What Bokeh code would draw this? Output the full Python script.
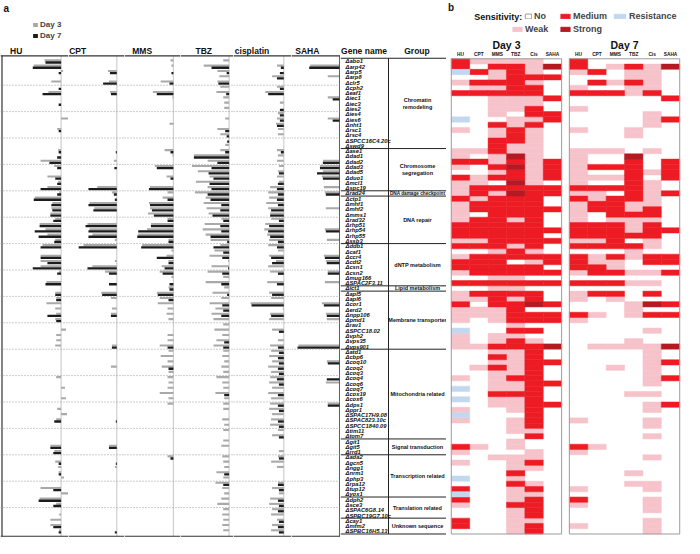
from bokeh.plotting import figure
from bokeh.layouts import row
from bokeh.models import Range1d, FactorRange, Span, Legend, LegendItem, ColumnDataSource
from bokeh.transform import dodge
from bokeh.core.properties import value
from bokeh.embed import file_html
from bokeh.resources import INLINE

FONT = "Liberation Sans"

# ---------------- data ----------------
genes = ["Δabo1", "Δarp42", "Δarp5", "Δarp8", "Δclr5", "Δcph2", "Δeaf1", "Δiec1", "Δiec3", "Δies2",
         "Δies4", "Δies6", "Δnht1", "Δrsc1", "Δrsc4", "ΔSPCC16C4.20c", "Δswd9",
         "Δase1", "Δdad1", "Δdad2", "Δdad3", "Δdad5", "Δduo1", "Δmcl1", "Δspc19",
         "Δrad24",
         "Δctp1", "Δmhf1", "Δmhf2", "Δmms1", "Δrad32", "Δrhp51", "Δrhp54", "Δrhp55", "Δssb3",
         "Δddb1", "Δcaf1", "Δccr4", "Δcdt2", "Δcsn1", "Δcsn2", "Δmug166", "ΔSPAC2F3.11",
         "Δict1",
         "Δapl5", "Δapl6", "Δcor1", "Δerd2", "Δnpp106", "Δpmd1", "Δrav1", "ΔSPCC18.02", "Δvph2",
         "Δvps35", "Δvps901",
         "Δatd1", "Δcbp6", "Δcoq10", "Δcoq2", "Δcoq3", "Δcoq4", "Δcoq6", "Δcoq7", "Δcox19", "Δcox6",
         "Δdps1", "Δppr1", "ΔSPAC17H9.08", "ΔSPAC823.10c", "ΔSPCC1840.09", "Δtim11", "Δtom7",
         "Δgit1", "Δgit5", "Δrrd1",
         "Δada2", "Δgcn5", "Δngg1", "Δnrm1", "Δphp3", "Δrpa12", "Δtup12", "Δyox1",
         "Δdph2", "Δsce3", "ΔSPAC6G8.14", "ΔSPBC19G7.10c",
         "Δcay1", "Δmfm2", "ΔSPBC16H5.13"]

group_names = ["Chromatin\nremodeling", "Chromosome\nsegregation", "DNA damage checkpoint",
               "DNA repair", "dNTP metabolism", "Lipid metabolism", "Membrane transporter",
               "Mitochondria related", "Signal transduction", "Transcription related",
               "Translation related", "Unknown sequence"]
group_sizes = [17, 8, 1, 9, 8, 1, 11, 17, 3, 8, 4, 3]

drugs = ["HU", "CPT", "MMS", "TBZ", "cisplatin", "SAHA"]

hu_day3 = [-1.7, -2.8, 0.2, 0, -1.0, 0, -1.3, 0, 0, 0,
           0, 0.8, 0, -0.4, 0, 0, 0, -0.3, 0, -2.1,
           -0.7, 0, -1.4, -0.3, -1.4, -0.2, -2.7, -0.9, -1.0, -1.1,
           -0.6, -2.2, -1.6, -1.4, -0.6, -1.9, 0, -2.1, -2.1, -2.1,
           -0.2, 0, -1.5, 0, -0.6, -0.5, -1.5, -0.6, -0.5, -0.6,
           0, 0.5, -0.5, -0.5, -0.6, 0, 0, 0, 0, 0,
           -0.5, 0, 0.4, 0, 0.5, 0, -0.4, 0.6, -0.5, 0,
           0, 0, 0, -1.1, -0.7, 0, -0.6, -0.3, -0.25, 0.3,
           0, -2.1, 0.9, -2.2, -0.5, 0, -0.2, -1.1, -1.1, -0.2]
hu_day7 = [-1.6, -2.9, -0.25, 0, 0, -0.25, -1.9, 0, -0.25, 0,
           0, 0, 0, -0.25, 0, 0, 0, -0.25, -0.4, -1.2,
           -0.4, 0, -0.6, -0.4, -2.1, -0.4, -2.8, -1.0, -0.9, -1.1,
           -0.8, -2.2, -2.7, -2.3, -0.7, -2.1, 0, -2.1, -1.4, -2.9,
           -0.4, 0, -1.6, 0, -0.6, -0.5, 0, 0, -1.4, -0.5,
           0, 0, 0, 0, 0, 0, 0, 0, 0, 0,
           0, 0, 0, 0, 0, 0, 0, 0, -0.7, 0,
           0, 0, 0, -1.1, -0.8, 0, -0.25, 0, -0.25, 0,
           0, -0.8, 0, -2.3, -0.8, 0, 0, 0, -0.8, -0.25]
cpt_day3 = [0, 0, -0.9, 0, -0.8, 0, -0.7, 0, 0, 0,
            0, 0, 0, 0, 0, 0, 0, 0, 0, -0.3,
            0, 0, 0, 0, -2.0, -0.5, 0, -2.8, -2.3, 0,
            0, -3.0, -2.8, -2.5, -0.2, -3.4, 0, 0, -0.2, -2.5,
            -1.2, 0, 0, 0, -1.6, -0.6, 0, -0.5, -0.6, 0,
            0, 0, 0, 0, -0.5, 0, 0, 0, -0.6, 0,
            0, 0, 0, 0, 0, 0, 0, 0, 0, 0,
            0, 0, 0, -0.8, 0, 0, 0, -0.2, 0, 0,
            0, 0, 0, 0, 0, 0, 0, 0, 0, 0]
cpt_day7 = [0, 0, -0.7, 0, -1.4, 0, -0.6, 0, 0, 0,
            0, 0, 0, 0, 0, 0, 0, -0.1, 0, 0,
            -0.25, 0, 0, 0, -2.9, -0.3, -0.2, -2.9, -2.4, 0,
            0, -3.2, -2.9, -2.9, 0, -3.9, 0, 0, 0, -3.0,
            -0.8, 0, -0.8, 0, -1.5, 0, 0, 0, -0.6, 0,
            0, 0, 0, 0, -0.5, 0, 0, 0, 0, 0,
            0, 0, 0, 0, 0, 0, 0, 0, -0.1, 0,
            0, 0, 0, -0.8, 0, 0, -0.1, 0, 0, 0,
            0, 0, 0, 0, 0, 0, 0, 0, 0, -0.2]
mms_day3 = [-0.3, -0.2, 0, 0, -1.3, 0, -2.1, -0.1, 0, 0,
            0, 0, -0.4, 0, 0, 0, 0, -0.9, -0.1, 0,
            -1.9, 0, -0.7, 0, -2.4, -0.6, -1.1, -2.5, -2.4, -2.6,
            -0.6, -2.3, -2.7, -3.6, -0.5, -3.2, -0.2, -0.7, -0.5, -1.2,
            -1.4, -0.2, 0, -0.5, -1.7, -1.4, -1.6, -0.6, -0.7, -0.5,
            0, 0, -0.6, -0.6, -1.4, -0.5, -1.3, -0.6, -1.2, -0.5,
            -0.6, -0.5, -0.6, -1.4, -0.5, -0.6, 0, 0, 0, 0,
            0, 0, 0, 0, 0, -0.6, 0, 0, 0, 0,
            0, 0, 0, 0, 0, 0, 0, 0, 0, 0]
mms_day7 = [0, 0, -0.2, 0, -0.4, 0, -1.7, 0, 0, 0,
            0, 0, 0, 0, 0, 0, 0, -0.3, 0, 0,
            -1.7, 0, -0.3, 0, -2.5, 0, -0.6, -2.4, -2.2, -2.0,
            -0.6, -2.3, -3.6, -3.7, -0.5, -3.3, 0, -1.7, -0.5, -0.9,
            -1.1, 0, -0.4, -0.4, -1.6, -0.5, 0, 0, 0, 0,
            0, 0, 0, 0, -0.6, 0, 0, 0, -0.5, 0,
            0, 0, 0, 0, 0, 0, 0, 0, 0, 0,
            0, 0, 0, 0, 0, -0.3, 0, 0, 0, 0,
            0, 0, 0, 0, 0, 0, 0, 0, 0, 0]
tbz_day3 = [-0.6, -2.6, -1.2, -1.0, -1.2, -0.9, -1.3, -0.6, -0.5, -0.5,
            0, -0.4, 0, -1.2, -0.9, 0, -0.4, -0.9, -3.6, -2.2,
            -3.8, -3.2, -2.0, -3.4, -2.2, -3.5, -2.4, -2.6, -2.3, -2.1,
            -0.8, -2.5, -2.7, -2.4, -1.9, -0.9, -1.5, -2.0, -0.1, -1.8,
            -2.2, -0.6, -2.4, -0.5, -1.7, -0.8, -2.0, -1.4, -1.8, -1.6,
            -0.6, -1.5, -0.7, -1.3, -1.6, -0.6, -0.7, -0.5, -0.8, -0.6,
            -1.3, -0.7, -0.6, -1.4, -0.5, -0.6, -0.6, 0, -0.7, -0.5,
            -0.6, 0, -0.6, -0.8, 0, -0.7, -0.6, -0.5, -1.3, -0.6,
            -1.4, -0.7, -0.5, -0.8, -1.2, -0.6, -0.7, -0.6, -0.7, -0.6]
tbz_day7 = [0, -1.8, -0.25, 0, -1.1, 0, -0.3, 0, 0, 0,
            0, 0, 0, -0.4, -0.25, -0.2, 0, -0.4, -3.6, -1.2,
            -1.8, -2.1, -1.6, -2.0, -1.8, -2.2, -1.9, -0.8, -0.9, -1.7,
            -0.6, -0.9, -0.8, -1.9, -0.2, -1.6, -0.6, -0.7, 0, -0.1,
            -0.7, 0, -0.8, 0, -0.2, 0, -0.7, -0.6, -0.8, 0,
            0, 0, 0, -0.5, -0.6, 0, 0, 0, 0, 0,
            0, 0, 0, -0.5, 0, 0, 0, 0, 0, 0,
            0, 0, 0, 0, 0, 0, 0, 0, -0.5, 0,
            -0.6, 0, 0, 0, 0, 0, 0, 0, 0, 0]
cis_day3 = [0, -0.7, 0, -1.2, 0, -0.7, -1.9, 0, -0.4, 0,
            -0.6, -0.7, -0.8, -0.6, -0.6, 0, 0, -0.7, -0.6, -0.7,
            -0.5, -0.6, -0.7, -0.5, -1.4, -1.6, -1.5, -1.8, -1.6, -1.4,
            -1.3, -1.9, -2.0, -1.7, -1.5, -1.6, -0.6, -1.5, -0.8, -1.6,
            -1.4, 0, -1.7, 0, -1.5, -1.3, -3.4, -0.1, -1.4, -1.5,
            0, -1.2, 0, -0.6, -1.4, -1.3, -1.5, -1.2, -1.6, -1.3,
            -1.4, -1.5, -1.2, -1.6, -1.3, -1.4, -1.5, -1.2, -1.3, -1.4,
            -0.6, -1.2, 0, 0, -0.5, -0.6, -1.3, -0.7, 0, 0,
            -0.6, -1.2, -0.5, -1.4, -1.5, -1.2, -1.3, -0.7, -1.2, -1.3]
cis_day7 = [0, -0.3, -0.4, -0.7, 0, -0.4, -1.6, 0, 0, -0.4,
            -0.4, -0.4, -0.7, 0, 0, 0, 0, -0.3, 0, 0,
            0, -0.5, 0, -0.6, -0.7, -0.6, -0.7, -0.6, -1.3, -1.4,
            -0.5, -1.5, -1.6, -1.4, -0.6, -0.7, 0, -1.3, -1.2, 0,
            -0.6, 0, -0.7, 0, -1.2, 0, -3.3, 0, -1.3, 0,
            0, -0.5, 0, 0, -0.6, -0.5, -0.6, -0.5, -0.6, -0.5,
            -0.7, -0.5, 0, -0.6, 0, -0.6, -0.5, 0, -0.6, -0.5,
            0, -0.5, 0, 0, 0, -0.5, 0, 0, 0, 0,
            -0.6, -0.5, 0, -0.6, -0.5, -0.6, 0, -0.5, -0.6, -0.5]
saha_day3 = [0, -3.0, 0, -1.2, 0, 0, 0, -1.2, 0, 0,
             0, -1.2, 0, 0, 0, 0, 0, 0, 0, -1.7,
             -2.0, -1.7, -1.8, 0, -1.6, -1.5, 0, 0, -1.4, 0,
             0, 0, -1.5, 0, -1.3, 0, 0, -1.6, -1.4, 0,
             -1.2, 0, -1.5, 0, 0, 0, -1.8, 0, -1.4, -1.3,
             0, 0, 0, 0, -4.2, 0, 0, -1.3, 0, 0,
             0, -1.4, 0, 0, 0, -1.2, 0, 0, 0, 0,
             0, 0, 0, 0, 0, 0, 0, 0, 0, 0,
             0, 0, 0, 0, 0, 0, 0, 0, 0, 0]
saha_day7 = [0, -3.1, 0, 0, 0, 0, 0, -0.7, 0, 0,
             0, -0.7, 0, 0, 0, 0, 0, 0, 0, -1.7,
             -2.0, -2.3, -1.7, 0, 0, -1.4, 0, 0, 0, 0,
             0, 0, -1.4, 0, 0, 0, 0, -1.5, -1.3, 0,
             -1.2, 0, 0, 0, 0, 0, -1.6, 0, -1.3, 0,
             0, 0, 0, 0, -4.3, 0, 0, -1.2, 0, 0,
             -1.3, 0, 0, 0, 0, -1.2, 0, 0, 0, 0,
             0, 0, 0, 0, 0, 0, 0, 0, 0, 0,
             0, 0, 0, 0, 0, 0, 0, 0, 0, 0]

day3_values = [hu_day3, cpt_day3, mms_day3, tbz_day3, cis_day3, saha_day3]
day7_values = [hu_day7, cpt_day7, mms_day7, tbz_day7, cis_day7, saha_day7]

# heatmap: one string per gene, columns HU CPT MMS TBZ Cis SAHA
# 0 = no, 1 = weak, 2 = medium, 3 = strong, r = resistance
heat_drugs = ["HU", "CPT", "MMS", "TBZ", "Cis", "SAHA"]
heat_day3 = ["211110", "202213", "r21210", "001222", "122210", "011220", "222220", "001112",
             "001110", "001120", "001022", "r00112", "002120", "101210", "001210", "002210",
             "002110",
             "112110", "101310", "221212", "102312", "001212", "212212", "110310", "122222",
             "121322",
             "212220", "122220", "122222", "102220", "122120", "222220", "222222", "222220",
             "112222",
             "222120", "001210", "122222", "222012", "222220", "122222", "001100", "222222",
             "001100",
             "122220", "112120", "202232", "111200", "111222", "101222", "000100", "r00220",
             "101100", "101210", "112223",
             "001120", "002120", "001122", "012120", "001120", "101220", "001122", "r01120",
             "002220", "r01120", "001122", "100120", "r00020", "100120", "000120", "000110",
             "000020",
             "000100", "210100", "100010",
             "001110", "100120", "000110", "000200", "r00100", "000210", "200120", "r00110",
             "200120", "100220", "000120", "000120",
             "200110", "200120", "000120"]
heat_day7 = ["200000", "201213", "120110", "000110", "021210", "100110", "222120", "000002",
             "000000", "100000", "000010", "000012", "000010", "100100", "000100", "000000",
             "000000",
             "111010", "100300", "100202", "122202", "100212", "111202", "100210", "222210",
             "110212",
             "212210", "122110", "122120", "102220", "101110", "222120", "222122", "222220",
             "112010",
             "222210", "000100", "212122", "211022", "221000", "122112", "000000", "222110",
             "000000",
             "122020", "101000", "000132", "000100", "210122", "100000", "000000", "000010",
             "000000", "000100", "011113",
             "000010", "000010", "000012", "001010", "000010", "000012", "000010", "000000",
             "000110", "000000", "000012", "000010", "000000", "100010", "000010", "000000",
             "000010",
             "000000", "210000", "100000",
             "000010", "000000", "000000", "000100", "000000", "000110", "100010", "000000",
             "200010", "100010", "000010", "000000",
             "000010", "100010", "000010"]

sens_levels = ["No", "Weak", "Medium", "Strong", "Resistance"]
sens_codes = ["0", "1", "2", "3", "r"]
sens_colors = ["#FFFFFF", "#F6C3CB", "#ED1C24", "#B51A22", "#C3D8EE"]

# ---------------- layout constants ----------------
H = 538
ROW_PX = 5.28
Y_TOP = -11.54
Y_BOT = Y_TOP + H / ROW_PX
N = len(genes)
yr = Range1d(start=Y_BOT, end=Y_TOP)

FRAME_TOP = -1.06
FRAME_BOT = 89.93
PPU = 9.77
panel_w = [68, 56, 56, 53, 58, 49]
panel_zero = [60.6, 48.3, 48.9, 48.6, 50.3, 48.0]
title_x = [-4.6, -4.0, -3.2, -2.6, -3.25, -3.3]


def base_fig(width, x_range):
    p = figure(width=width, height=H, x_range=x_range, y_range=yr,
               x_axis_location=None, y_axis_location=None,
               toolbar_location=None, output_backend="svg", min_border=0,
               outline_line_color=None, background_fill_color="white",
               border_fill_color="white")
    p.grid.visible = False
    return p


def txt(p, x, y, t, size, align="center", style="bold", x_offset=0, color="#111111"):
    p.text(x=x, y=y, text=t, text_font=value(FONT), text_font_size=size,
           text_font_style=style, text_align=align, text_baseline="middle",
           text_color=color, x_offset=x_offset)


def legend_box(items, x, y_bottom, gw, gh, size, spacing=0, lh=10):
    return Legend(items=items, location=(x, H - y_bottom), orientation="vertical",
                  glyph_width=gw, glyph_height=gh, label_standoff=2, label_height=lh,
                  spacing=spacing, padding=0, margin=0, border_line_color=None,
                  background_fill_alpha=0, label_text_font=FONT,
                  label_text_font_size=size, label_text_font_style="bold",
                  label_text_baseline="middle")


panels = []
rows_idx = list(range(N))
for i, drug in enumerate(drugs):
    w, z = panel_w[i], panel_zero[i]
    x0, x1 = -z / PPU, (w - z) / PPU
    p = base_fig(w, Range1d(x0, x1))
    for k in range(1, N // 5 + 1):
        if k * 5 < N:
            p.add_layout(Span(location=k * 5 - 0.5, dimension="width",
                              line_color="#9A9A9A", line_dash="1 2", line_width=1))
    p.segment(x0=[0], y0=[FRAME_TOP], x1=[0], y1=[FRAME_BOT],
              line_color="#CFCFCF", line_width=1.2)
    src = ColumnDataSource(dict(row=rows_idx, d3=day3_values[i], d7=day7_values[i]))
    r3 = p.hbar(y=dodge("row", -0.2), left=0, right="d3", height=0.4,
                fill_color="#A9A9A9", line_color=None, source=src)
    r7 = p.hbar(y=dodge("row", 0.2), left=0, right="d7", height=0.44,
                fill_color="#1C1C1C", line_color=None, source=src)
    # frame
    p.segment(x0=[x0, x0], y0=[FRAME_TOP, FRAME_BOT], x1=[x1, x1], y1=[FRAME_TOP, FRAME_BOT],
              line_color="#333333", line_width=1.2)
    if i == 0:
        xl = x0 + 1.5 / PPU
        p.segment(x0=[xl], y0=[FRAME_TOP], x1=[xl], y1=[FRAME_BOT], line_color="#333333", line_width=1.2)
        txt(p, [x0], [-10.1], ["a"], "10px", align="left", x_offset=3)
        p.add_layout(legend_box([LegendItem(label="Day 3", renderers=[r3]),
                                 LegendItem(label="Day 7", renderers=[r7])],
                                32, 40, 6, 5, "8px", spacing=2, lh=9))
    if i == len(drugs) - 1:
        xr = x1 - 0.6 / PPU
        p.segment(x0=[xr], y0=[FRAME_TOP], x1=[xr], y1=[FRAME_BOT], line_color="#333333", line_width=1.2)
    txt(p, [title_x[i]], [-1.98], [drug], "8.5px")
    panels.append(p)

# ---------------- gene name / group table ----------------
pn = base_fig(106, Range1d(0, 106))
bounds = [-0.6]
acc = 0
for s in group_sizes:
    acc += s
    bounds.append(acc - 0.5)
pn.segment(x0=[0] * len(bounds), y0=bounds, x1=[106] * len(bounds), y1=bounds,
           line_color="#222222", line_width=1)
pn.segment(x0=[48], y0=[-0.6], x1=[48], y1=[N - 0.5], line_color="#222222", line_width=1)
txt(pn, 5, rows_idx, genes, "5.8px", align="left", style="bold italic")
centers = [(bounds[k] + bounds[k + 1]) / 2 for k in range(len(group_sizes))]
group_font = ["4.7px" if g == "DNA damage checkpoint" else "5.5px" for g in group_names]
pn.text(x=77, y=centers, text=group_names, text_font=value(FONT), text_font_size=group_font,
        text_font_style="bold", text_align="center", text_baseline="middle", text_color="#111111")
txt(pn, [23.5, 76.5], [-1.98, -1.98], ["Gene name", "Group"], "8.5px")

# ---------------- heatmap ----------------
factors = [(d, c) for d in ["Day 3", "Day 7"] for c in heat_drugs]
ph = base_fig(238, FactorRange(factors=factors, group_padding=0.42, range_padding=0.26,
                                range_padding_units="absolute"))
level_renderers = {}
for code, col, lab in zip(sens_codes[1:], sens_colors[1:], sens_levels[1:]):
    xs, ys = [], []
    for day, table in (("Day 3", heat_day3), ("Day 7", heat_day7)):
        for gi, srow in enumerate(table):
            for j, ch in enumerate(srow):
                if ch == code:
                    xs.append((day, heat_drugs[j]))
                    ys.append(gi)
    level_renderers[lab] = ph.rect(x=xs, y=ys, width=1, height=1, fill_color=col,
                                   line_color=col, line_width=0.5)
level_renderers["No"] = ph.rect(x=["Day 3", "Day 7"], y=[(N - 1) / 2] * 2, width=6, height=N,
                                fill_color=None, line_color="#9C9C9C", line_width=1)
txt(ph, ["Day 3", "Day 7"], [-3.1, -3.1], ["Day 3", "Day 7"], "10.5px")
txt(ph, factors, [-1.3] * len(factors), [c for _, c in factors], "4.8px")
txt(ph, [("Day 3", "HU")], [-10.25], ["b"], "10px", align="left", x_offset=-12.4)
txt(ph, [("Day 3", "HU")], [-8.47], ["Sensitivity:"], "9px", align="right", x_offset=61.8)

leg_pos = {"No": (78, 16, 8), "Weak": (65, 28.5, 12), "Medium": (113, 16, 12),
           "Strong": (113, 28.5, 12), "Resistance": (166, 16, 15)}
for lab in sens_levels:
    lx, ly, gw = leg_pos[lab]
    ph.add_layout(legend_box([LegendItem(label=lab, renderers=[level_renderers[lab]])],
                             lx, ly + 5, gw, 6, "9px"))

layout = row(*panels, pn, ph, spacing=0)
open("out.html", "w").write(file_html(layout, INLINE))
